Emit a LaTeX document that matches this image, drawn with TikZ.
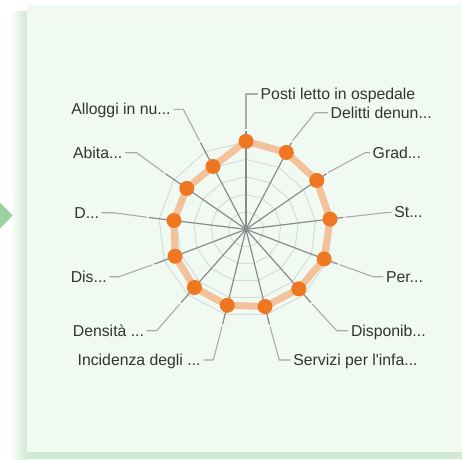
\documentclass[tikz,border=0pt]{standalone}
\usepackage{fontspec}
\setmainfont{Liberation Sans}
\usetikzlibrary{calc}
\definecolor{panelfill}{RGB}{240,250,243}
\definecolor{panelshadow}{RGB}{207,234,210}
\definecolor{arrowgreen}{RGB}{154,211,161}
\definecolor{gridgrey}{RGB}{214,220,215}
\definecolor{spokegrey}{RGB}{138,138,138}
\definecolor{leadergrey}{RGB}{171,171,171}
\definecolor{seriesline}{RGB}{243,194,155}
\definecolor{dotorange}{RGB}{239,119,34}
\definecolor{textgrey}{RGB}{51,51,51}
\begin{document}
\begin{tikzpicture}[x=1pt, y=1pt,
    lbl/.style={inner xsep=2.5pt, inner ysep=0pt, text height=11pt, text depth=0pt,
      text=textgrey, font=\fontsize{15.8}{18}\selectfont},
    dot/.style={circle, fill=dotorange, inner sep=0pt, minimum size=15pt},
    leader/.style={leadergrey, line width=1.1pt},
    spoke/.style={spokegrey, line width=1.2pt},
    ring/.style={gridgrey, line width=1pt}]
  \useasboundingbox (0,0) rectangle (462,459);

  % panel and arrow
  \shade[left color=white, right color=panelshadow] (10,0) rectangle (27,447);
  \fill[panelshadow] (27,0) rectangle (462,7);
  \fill[panelfill] (27,7) rectangle (462,454);
  \fill[arrowgreen] (-1,257.5) -- (12.7,243.5) -- (-1,229.5) -- cycle;

  \coordinate (c) at (246,229.7);

  % grid
  \foreach \k in {1,...,5}
    \draw[ring] ($(c)+(90:17.5*\k)$)
      \foreach \i in {1,...,12} { -- ($(c)+(90-\i*360/13:17.5*\k)$) } -- cycle;
  \foreach \i in {0,...,12}
    \draw[spoke] (c) -- ($(c)+(90-\i*360/13:98)$);

  % values
  \coordinate (p1) at ($(c)+(90:88)$);
  \coordinate (p2) at ($(c)+(62.31:86.8)$);
  \coordinate (p3) at ($(c)+(34.62:86)$);
  \coordinate (p4) at ($(c)+(6.92:84.6)$);
  \coordinate (p5) at ($(c)+(-20.77:83.6)$);
  \coordinate (p6) at ($(c)+(-48.46:79.6)$);
  \coordinate (p7) at ($(c)+(-76.15:79.5)$);
  \coordinate (p8) at ($(c)+(-103.85:78.3)$);
  \coordinate (p9) at ($(c)+(-131.54:77.7)$);
  \coordinate (p10) at ($(c)+(-159.23:75.9)$);
  \coordinate (p11) at ($(c)+(173.08:72.6)$);
  \coordinate (p12) at ($(c)+(145.38:72)$);
  \coordinate (p13) at ($(c)+(117.69:71)$);

  \draw[seriesline, line width=7pt, line join=round]
    (p1) -- (p2) -- (p3) -- (p4) -- (p5) -- (p6) -- (p7)
    -- (p8) -- (p9) -- (p10) -- (p11) -- (p12) -- (p13) -- cycle;
  \foreach \i in {1,...,13}
    \node[dot] (d\i) at (p\i) {};

  % labels
  \node[lbl, anchor=west] (l1) at (258,365) {Posti letto in ospedale};
  \node[lbl, anchor=west] (l2) at (328,346.3) {Delitti denun...};
  \node[lbl, anchor=west] (l3) at (370,306.3) {Grad...};
  \node[lbl, anchor=west] (l4) at (391.7,246.7) {St...};
  \node[lbl, anchor=west] (l5) at (383.3,182.3) {Per...};
  \node[lbl, anchor=west] (l6) at (348.3,128.3) {Disponib...};
  \node[lbl, anchor=west] (l7) at (290.7,99) {Servizi per l\textquotesingle infa...};
  \node[lbl, anchor=east] (l8) at (203.3,99) {Incidenza degli ...};
  \node[lbl, anchor=east] (l9) at (146.7,128.3) {Densità ...};
  \node[lbl, anchor=east] (l10) at (109.5,182.3) {Dis...};
  \node[lbl, anchor=east] (l11) at (101.7,246.3) {D...};
  \node[lbl, anchor=east] (l12) at (125,306.3) {Abita...};
  \node[lbl, anchor=east] (l13) at (173.3,349.7) {Alloggi in nu...};

  % leader lines
  \coordinate (k1) at (246,365);
  \coordinate (k2) at (315,346.3);
  \coordinate (k3) at (365,306.3);
  \coordinate (k4) at (388.3,246.7);
  \coordinate (k5) at (373.3,182.3);
  \coordinate (k6) at (336.7,128.3);
  \coordinate (k7) at (279.3,99);
  \coordinate (k8) at (213.3,99);
  \coordinate (k9) at (156.7,128.3);
  \coordinate (k10) at (119,182.3);
  \coordinate (k11) at (113.3,246.3);
  \coordinate (k12) at (136.7,306.3);
  \coordinate (k13) at (183.3,349.7);

  \foreach \i in {1,...,7}
    \draw[leader] ($(c)+(90-\i*360/13+360/13:100)$) -- (k\i) -- (l\i.west);
  \foreach \i in {8,...,13}
    \draw[leader] ($(c)+(90-\i*360/13+360/13:100)$) -- (k\i) -- (l\i.east);
\end{tikzpicture}
\end{document}
